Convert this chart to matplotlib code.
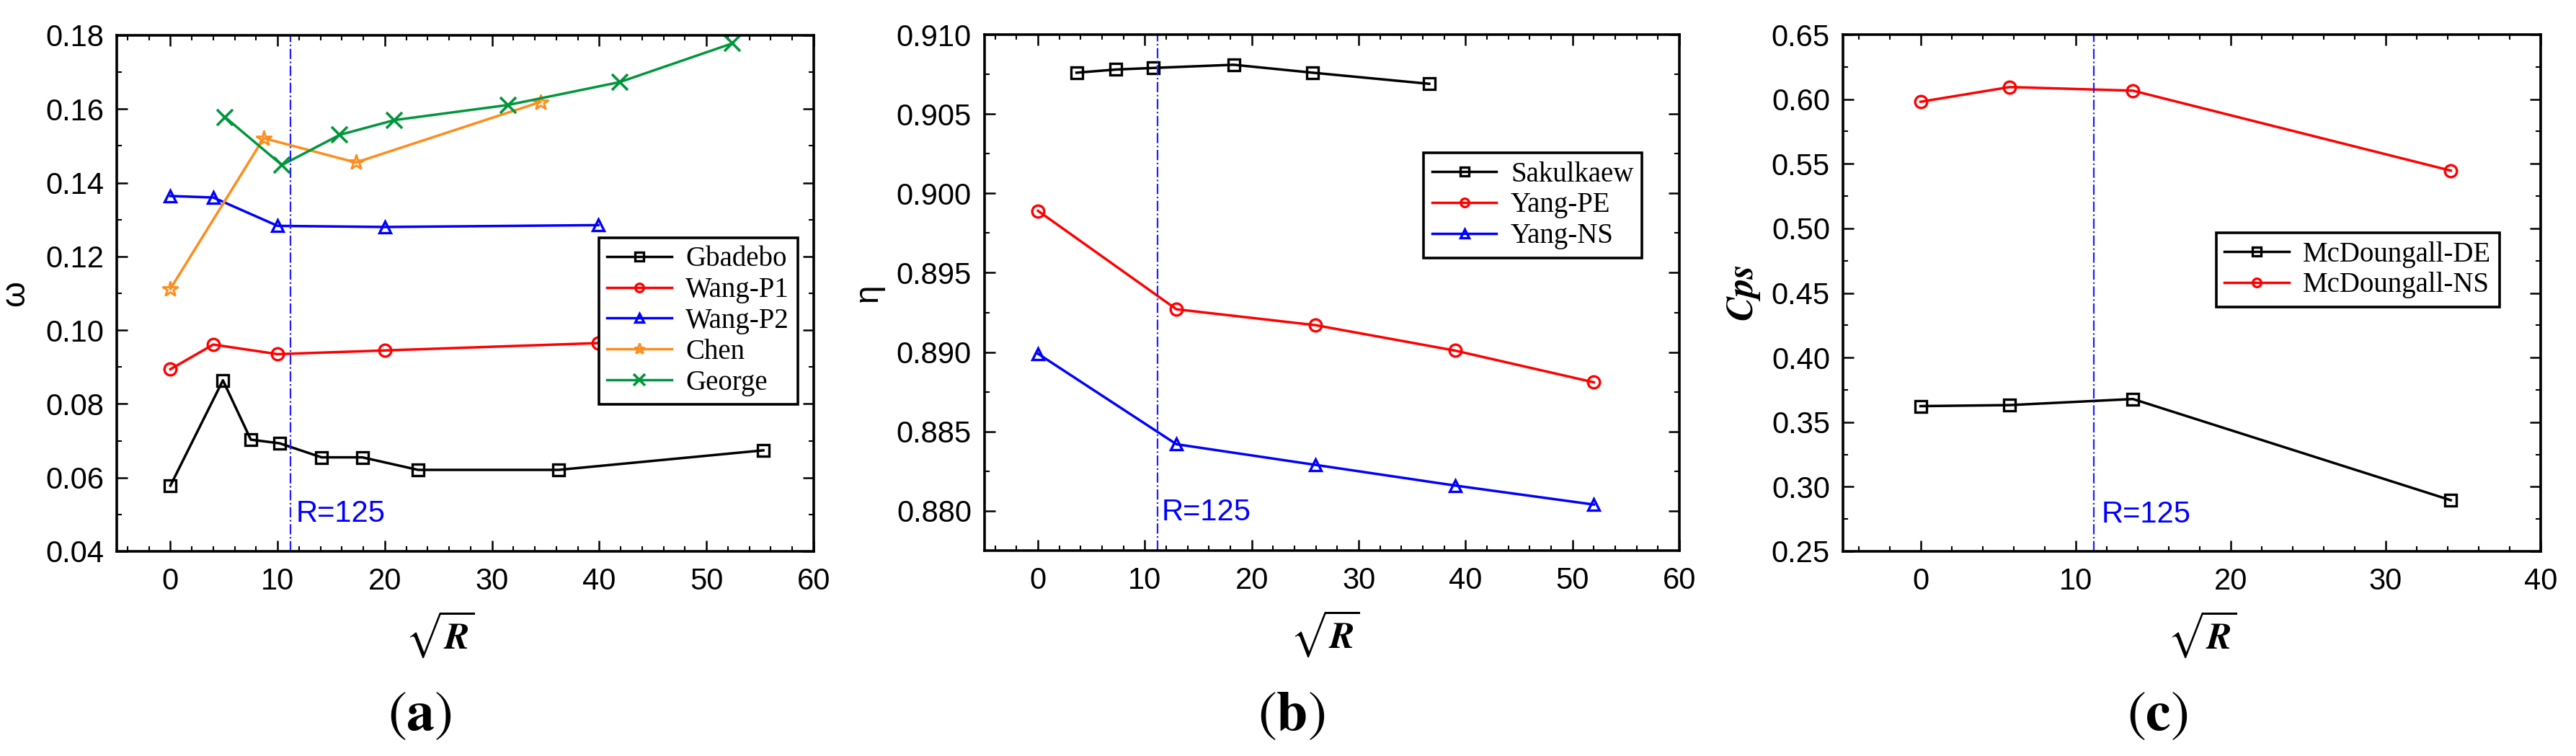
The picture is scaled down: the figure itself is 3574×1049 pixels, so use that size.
import numpy as np
import matplotlib
matplotlib.use("Agg")
import matplotlib.pyplot as plt
from matplotlib.ticker import MultipleLocator

R_LINE = np.sqrt(125)

# (a) omega vs sqrt(R)
gbadebo_x = [0, 4.9, 7.5, 10.2, 14.1, 17.9, 23.1, 36.2, 55.3]
gbadebo_y = [0.0578, 0.0864, 0.0703, 0.0693, 0.0655, 0.0655, 0.0621, 0.0621, 0.0674]
wang_p1_x = [0, 4.0, 10.0, 20.0, 39.9]
wang_p1_y = [0.0894, 0.0961, 0.0935, 0.0945, 0.0965]
wang_p2_x = [0, 4.0, 10.0, 20.0, 39.9]
wang_p2_y = [0.1364, 0.1360, 0.1283, 0.1280, 0.1285]
chen_x = [0, 8.7, 17.3, 34.5]
chen_y = [0.1112, 0.1521, 0.1455, 0.1619]
george_x = [5.1, 10.4, 15.8, 20.9, 31.5, 41.9, 52.4]
george_y = [0.1578, 0.1448, 0.1530, 0.1570, 0.1611, 0.1673, 0.1778]

# (b) eta vs sqrt(R)
sakulkaew_x = [3.6, 7.3, 10.8, 18.3, 25.7, 36.6]
sakulkaew_y = [0.9076, 0.9078, 0.9079, 0.9081, 0.9076, 0.9069]
yang_pe_x = [0, 12.95, 25.95, 39.0, 52.0]
yang_pe_y = [0.8989, 0.8927, 0.8917, 0.8901, 0.8881]
yang_ns_x = [0, 12.95, 25.95, 39.0, 52.0]
yang_ns_y = [0.8899, 0.8842, 0.8829, 0.8816, 0.8804]

# (c) Cps vs sqrt(R)
mcd_de_x = [0, 5.76, 13.7, 34.2]
mcd_de_y = [0.3624, 0.3632, 0.3679, 0.2896]
mcd_ns_x = [0, 5.76, 13.7, 34.2]
mcd_ns_y = [0.5980, 0.6094, 0.6066, 0.5447]

plt.rcParams["font.family"] = ["Liberation Sans", "DejaVu Sans"]
plt.rcParams["mathtext.fontset"] = "stix"

W, H = 3574, 1049
fig = plt.figure(figsize=(W / 100, H / 100), dpi=100)


def px_axes(l, r, t, b):
    return fig.add_axes([l / W, 1 - b / H, (r - l) / W, (b - t) / H])


ax_a = px_axes(162, 1129, 49, 765)
ax_b = px_axes(1366, 2330, 48, 764)
ax_c = px_axes(2557, 3525, 48, 765)

line_kw = dict(lw=2.5, markersize=12, mew=2.4, markerfacecolor="none")
ORANGE = "#ff8c1a"
GREEN = "#00963c"


def style(ax, xlim, ylim, xmaj, xmin, ymaj, ymin, yfmt):
    ax.set_xlim(*xlim)
    ax.set_ylim(*ylim)
    ax.xaxis.set_major_locator(MultipleLocator(xmaj))
    ax.xaxis.set_minor_locator(MultipleLocator(xmin))
    ax.yaxis.set_major_locator(MultipleLocator(ymaj))
    ax.yaxis.set_minor_locator(MultipleLocator(ymin))
    ax.yaxis.set_major_formatter(plt.FormatStrFormatter(yfmt))
    ax.tick_params(which="both", direction="in", top=True, right=True)
    ax.tick_params(which="major", length=11, width=1.8, labelsize=30)
    ax.tick_params(which="minor", length=5, width=1.5)
    ax.tick_params(axis="x", which="major", pad=16)
    ax.tick_params(axis="y", which="major", pad=13)
    for s in ax.spines.values():
        s.set_linewidth(2.6)
    ax.axvline(R_LINE, color="#1f1fff", lw=1.6, ls="-.")
    ax.set_xlabel(r"$\sqrt{\mathbfit{R}}$", fontsize=37)


def legend(ax, anchor):
    lg = ax.legend(loc="upper right", bbox_to_anchor=anchor, borderaxespad=0,
                   prop={"family": "Liberation Serif", "size": 28},
                   fancybox=False, framealpha=1, edgecolor="black",
                   markerscale=0.7, handlelength=2.3, handletextpad=0.5,
                   borderpad=0.3, labelspacing=0.15)
    lg.get_frame().set_linewidth(2.6)


# panel (a)
ax = ax_a
ax.plot(gbadebo_x, gbadebo_y, "s-", color="black", label="Gbadebo", **line_kw)
ax.plot(wang_p1_x, wang_p1_y, "o-", color="red", label="Wang-P1", **line_kw)
ax.plot(wang_p2_x, wang_p2_y, "^-", color="blue", label="Wang-P2", **line_kw)
ax.plot(chen_x, chen_y, "*-", color=ORANGE, label="Chen",
        lw=2.5, markersize=16, mew=2.0, markerfacecolor="none")
ax.plot(george_x, george_y, "x-", color=GREEN, label="George",
        lw=2.5, markersize=16, mew=2.6)
style(ax, (-5, 60), (0.04, 0.18), 10, 2, 0.02, 0.01, "%.2f")
ax.text(R_LINE + 0.5, 0.0502, "R=125", color="blue", fontsize=30, va="center")
ax.set_ylabel("ω", fontsize=33)
legend(ax, (0.977, 0.608))

# panel (b)
ax = ax_b
ax.plot(sakulkaew_x, sakulkaew_y, "s-", color="black", label="Sakulkaew", **line_kw)
ax.plot(yang_pe_x, yang_pe_y, "o-", color="red", label="Yang-PE", **line_kw)
ax.plot(yang_ns_x, yang_ns_y, "^-", color="blue", label="Yang-NS", **line_kw)
style(ax, (-5, 60), (0.8775, 0.910), 10, 2, 0.005, 0.0025, "%.3f")
ax.text(R_LINE + 0.4, 0.8799, "R=125", color="blue", fontsize=30, va="center")
ax.set_ylabel("η", fontsize=33)
legend(ax, (0.946, 0.771))

# panel (c)
ax = ax_c
ax.plot(mcd_de_x, mcd_de_y, "s-", color="black", label="McDoungall-DE", **line_kw)
ax.plot(mcd_ns_x, mcd_ns_y, "o-", color="red", label="McDoungall-NS", **line_kw)
style(ax, (-5, 40), (0.25, 0.65), 10, 2, 0.05, 0.025, "%.2f")
ax.text(R_LINE + 0.5, 0.2785, "R=125", color="blue", fontsize=30, va="center")
ax.set_ylabel(r"$\mathbfit{Cps}$", fontsize=37)
legend(ax, (0.941, 0.6165))

ax_a.yaxis.set_label_coords(-0.123, 0.5)
ax_b.yaxis.set_label_coords(-0.145, 0.5)
ax_c.yaxis.set_label_coords(-0.116, 0.5)
ax_a.xaxis.set_label_coords(0.464, -0.112)
ax_b.xaxis.set_label_coords(0.490, -0.112)
ax_c.xaxis.set_label_coords(0.515, -0.112)

for tag, xc in (("a", 582), ("b", 1792), ("c", 2993)):
    fig.text(xc / W, 1 - 993 / H, r"$(\mathbf{" + tag + "})$", fontsize=56,
             ha="center", va="center")

fig.savefig("out.png", dpi=100)
